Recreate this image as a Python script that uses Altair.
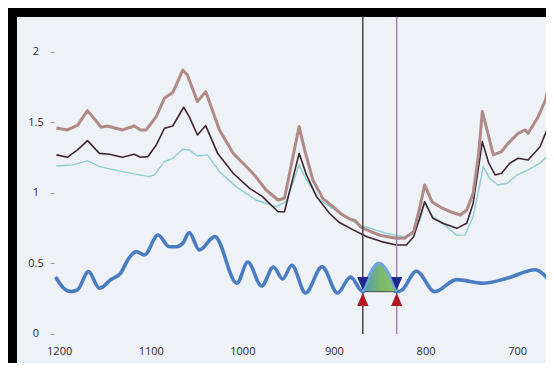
import altair as alt
import pandas as pd

# ---- data ----
brown_x = [1203, 1191, 1180, 1169, 1154, 1147, 1131, 1118, 1111, 1105, 1094, 1085, 1076, 1065, 1060,
           1049, 1040, 1025, 1010, 992, 987, 974, 961, 954, 938, 932, 923, 912, 901, 892, 881, 877,
           871, 864, 850, 832, 823, 813, 806, 801, 793, 784, 773, 762, 755, 748, 742, 738, 731, 726,
           717, 710, 699, 691, 688, 677, 669, 666]
brown_y = [1.46, 1.447, 1.48, 1.584, 1.466, 1.475, 1.447, 1.475, 1.447, 1.447, 1.541, 1.672, 1.712, 1.872, 1.837,
           1.648, 1.719, 1.447, 1.281, 1.163, 1.128, 1.021, 0.95, 0.962, 1.471, 1.305, 1.092, 0.96, 0.903, 0.85, 0.81, 0.805,
           0.76, 0.738, 0.70, 0.679, 0.679, 0.726, 0.903, 1.057, 0.938, 0.90, 0.867, 0.844, 0.879, 0.998, 1.281, 1.577, 1.399, 1.27,
           1.293, 1.352, 1.423, 1.447, 1.423, 1.541, 1.66, 1.754]

dark_x = [1203, 1191, 1180, 1169, 1156, 1145, 1131, 1118, 1111, 1103, 1094, 1085, 1076, 1064, 1058,
          1049, 1040, 1027, 1010, 992, 978, 961, 954, 938, 930, 919, 905, 894, 879, 864, 848, 832,
          821, 813, 806, 801, 792, 781, 766, 755, 748, 738, 731, 724, 717, 708, 699, 688, 675, 666]
dark_y = [1.27, 1.253, 1.305, 1.371, 1.281, 1.274, 1.253, 1.274, 1.253, 1.258, 1.34, 1.459, 1.475, 1.608, 1.541,
          1.411, 1.478, 1.281, 1.14, 1.033, 0.974, 0.867, 0.867, 1.281, 1.128, 0.974, 0.856, 0.79, 0.738, 0.69, 0.655, 0.631,
          0.631, 0.69, 0.832, 0.938, 0.82, 0.785, 0.749, 0.785, 0.927, 1.364, 1.211, 1.128, 1.14, 1.211, 1.246, 1.234, 1.328, 1.471]

teal_x = [1203, 1185, 1169, 1156, 1131, 1102, 1096, 1085, 1076, 1065, 1058, 1049, 1038, 1025, 1007,
          985, 963, 952, 938, 930, 916, 894, 872, 843, 824, 815, 806, 801, 792, 777, 766, 757, 748,
          742, 737, 730, 721, 711, 700, 688, 675, 666]
teal_y = [1.191, 1.199, 1.229, 1.187, 1.151, 1.116, 1.128, 1.222, 1.246, 1.31, 1.305, 1.262, 1.27, 1.151, 1.045,
          0.95, 0.903, 0.938, 1.199, 1.092, 0.955, 0.856, 0.773, 0.714, 0.69, 0.702, 0.809, 0.927, 0.832, 0.761, 0.70, 0.702, 0.832,
          1.021, 1.187, 1.104, 1.057, 1.069, 1.128, 1.163, 1.211, 1.27]

blue_x = [1203, 1195, 1187, 1180, 1168, 1156, 1143, 1133, 1125, 1116, 1107, 1092, 1080, 1072, 1065, 1058,
          1047, 1030, 1006, 994, 979, 966, 956, 946, 931, 913, 896, 882, 868.5, 851, 831.5, 826, 810,
          790, 766, 737, 711, 680, 667]
blue_y = [0.395, 0.324, 0.30, 0.312, 0.442, 0.324, 0.388, 0.43, 0.525, 0.584, 0.56, 0.702, 0.619, 0.619, 0.643, 0.719,
          0.596, 0.69, 0.36, 0.51, 0.34, 0.475, 0.39, 0.487, 0.29, 0.477, 0.29, 0.404, 0.30, 0.50, 0.30, 0.31, 0.445,
          0.30, 0.385, 0.36, 0.395, 0.455, 0.395]

cursor_x = [868.5, 831.5]
cursor_names = ["left", "right"]
band_x = [868.5, 851, 831.5]
band_y = [0.30, 0.50, 0.30]
band_base = 0.30
marker_top_y = 0.357
marker_bottom_y = 0.246

y_ticks = [0, 0.5, 1, 1.5, 2]
x_ticks = [1200, 1100, 1000, 900, 800, 700]

# ---- tables ----
brown = pd.DataFrame({"x": brown_x, "y": brown_y})
dark = pd.DataFrame({"x": dark_x, "y": dark_y})
teal = pd.DataFrame({"x": teal_x, "y": teal_y})
blue = pd.DataFrame({"x": blue_x, "y": blue_y})
band = pd.DataFrame({"x": band_x, "y": band_y, "base": [band_base] * len(band_x)})
Y_TOP = 2.248
cursors = pd.DataFrame({"x": cursor_x, "name": cursor_names, "y0": [0, 0], "y1": [Y_TOP, Y_TOP]})
markers = pd.DataFrame({"x": cursor_x, "top": [marker_top_y] * 2, "bottom": [marker_bottom_y] * 2})

xscale = alt.Scale(domain=[668.5, 1246], reverse=True, nice=False, zero=False)
yscale = alt.Scale(domain=[-0.206, Y_TOP], nice=False, zero=False)

xaxis = alt.Axis(values=x_ticks, format="d", title=None, orient="bottom", offset=-29,
                 ticks=False, tickSize=0, domain=False, grid=False, labelBaseline="middle",
                 labelPadding=17, labelFlush=False, labelOverlap=False,
                 labelFont="Open Sans", labelFontSize=11, labelColor="#2b2b2b")
yaxis = alt.Axis(values=y_ticks, format="~g", title=None, orient="left", offset=-37,
                 ticks=True, tickSize=4, tickColor="#9a9a9a", domain=False, grid=False,
                 labelAlign="center", labelBaseline="middle", labelPadding=14.5,
                 labelFont="Open Sans", labelFontSize=11, labelColor="#2b2b2b")

X = alt.X("x:Q", scale=xscale, axis=xaxis)
Y = alt.Y("y:Q", scale=yscale, axis=yaxis)

teal_l = alt.Chart(teal).mark_line(color="#8ccfd0", strokeWidth=1.4).encode(x=X, y=Y)
dark_l = alt.Chart(dark).mark_line(color="#3f2630", strokeWidth=1.6, strokeJoin="round").encode(x=X, y=Y)
brown_l = alt.Chart(brown).mark_line(color="#b08a86", strokeWidth=3, strokeJoin="round").encode(x=X, y=Y)
blue_l = alt.Chart(blue).mark_line(color="#4a7cc2", strokeWidth=3.6, strokeJoin="round", strokeCap="round",
                                   interpolate="monotone").encode(x=X, y=Y)

grad = alt.Gradient(gradient="linear",
                    stops=[alt.GradientStop(color="#4f98b8", offset=0),
                           alt.GradientStop(color="#7cba6c", offset=0.55),
                           alt.GradientStop(color="#8cc06e", offset=1)],
                    x1=0, x2=1, y1=0, y2=0)
band_a = alt.Chart(band).mark_area(color=grad, stroke="#4a4a4a", strokeWidth=1, opacity=1,
                                   interpolate="monotone").encode(
    x=X, y=alt.Y("y:Q", scale=yscale, axis=yaxis), y2="base:Q")
band_l = alt.Chart(band).mark_line(color="#6fa6de", strokeWidth=3.2, strokeJoin="round",
                                   interpolate="monotone").encode(x=X, y=Y)

rules = alt.Chart(cursors).mark_rule(strokeWidth=1.4).encode(
    x=X, y=alt.Y("y0:Q", scale=yscale, axis=yaxis), y2="y1:Q",
    color=alt.Color("name:N", scale=alt.Scale(domain=cursor_names, range=["#4e3540", "#a47cb8"]), legend=None))

tri_down = alt.Chart(markers).mark_point(shape="M-0.85,-1L0.85,-1L0,1Z", filled=True, size=175,
                                         color="#1f2a8c", opacity=1).encode(
    x=X, y=alt.Y("top:Q", scale=yscale, axis=yaxis))
tri_up = alt.Chart(markers).mark_point(shape="M-0.85,1L0.85,1L0,-1Z", filled=True, size=175,
                                       color="#b01a1e", opacity=1).encode(
    x=X, y=alt.Y("bottom:Q", scale=yscale, axis=yaxis))

chart = alt.layer(teal_l, dark_l, brown_l, rules, blue_l, band_a, band_l, tri_down, tri_up).properties(
    width=529, height=346,
    background="#000000",
    padding={"left": 9, "top": 9, "right": 0, "bottom": 0},
    autosize=alt.AutoSizeParams(type="none"),
).configure_view(fill="#eef1f6", stroke=None)

chart.save("out.html", embed_options={"renderer": "svg", "actions": False})
